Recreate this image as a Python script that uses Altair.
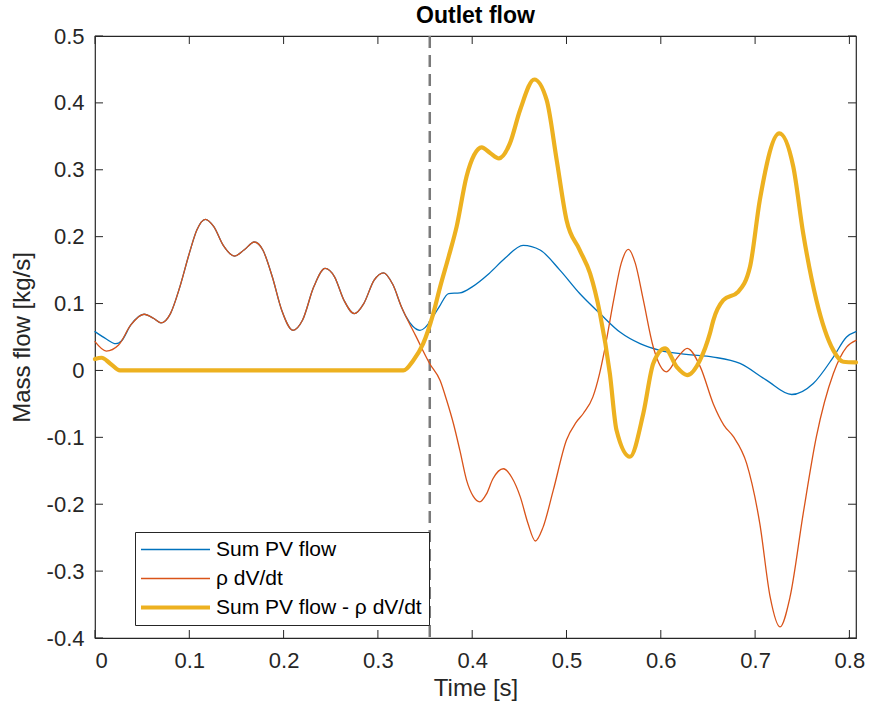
import altair as alt
import pandas as pd

# ---- data ----
series_names = ["Sum PV flow", "ρ dV/dt", "Sum PV flow - ρ dV/dt"]
series_colors = ["#0072BD", "#D95319", "#EDB120"]
series_widths = [1.3, 1.3, 4.2]

rho_t = [0.000, 0.012, 0.025, 0.038, 0.052, 0.062, 0.070, 0.080, 0.090, 0.100,
         0.108, 0.117, 0.126, 0.136, 0.148, 0.158, 0.169, 0.178, 0.188, 0.198,
         0.210, 0.220, 0.232, 0.244, 0.254, 0.264, 0.275, 0.285, 0.296, 0.306,
         0.316, 0.325, 0.330, 0.340, 0.355, 0.366, 0.373, 0.380, 0.387, 0.394,
         0.401, 0.408, 0.415, 0.422, 0.433, 0.442, 0.451, 0.459, 0.467, 0.475,
         0.486, 0.500, 0.510, 0.518, 0.528, 0.535, 0.541, 0.550, 0.558, 0.5656,
         0.573, 0.5815, 0.592, 0.606, 0.618, 0.628, 0.642, 0.6557, 0.667, 0.677,
         0.691, 0.705, 0.716, 0.7264, 0.737, 0.751, 0.765, 0.783, 0.797, 0.807]
rho_v = [0.043, 0.029, 0.038, 0.068, 0.084, 0.078, 0.071, 0.085, 0.125, 0.175,
         0.210, 0.226, 0.215, 0.187, 0.171, 0.180, 0.192, 0.180, 0.140, 0.090,
         0.060, 0.075, 0.125, 0.1525, 0.140, 0.105, 0.085, 0.100, 0.135, 0.146,
         0.128, 0.095, 0.080, 0.052, 0.010, -0.015, -0.045, -0.079, -0.120, -0.164,
         -0.188, -0.1965, -0.185, -0.162, -0.147, -0.160, -0.189, -0.228, -0.255, -0.235,
         -0.179, -0.104, -0.078, -0.064, -0.0395, -0.005, 0.035, 0.105, 0.160, 0.181,
         0.160, 0.105, 0.035, -0.002, 0.020, 0.033, 0.005, -0.050, -0.082, -0.099,
         -0.139, -0.229, -0.339, -0.3835, -0.339, -0.214, -0.099, -0.0045, 0.035, 0.045]

pv_t = [0.000, 0.012, 0.022, 0.028, 0.038, 0.052, 0.062, 0.070, 0.080, 0.090, 0.100,
        0.108, 0.117, 0.126, 0.136, 0.148, 0.158, 0.169, 0.178, 0.188, 0.198,
        0.210, 0.220, 0.232, 0.244, 0.254, 0.264, 0.275, 0.285, 0.296, 0.306,
        0.316, 0.325, 0.330, 0.337, 0.3446, 0.350, 0.355, 0.365, 0.375, 0.387,
        0.400, 0.418, 0.435, 0.454, 0.472, 0.493, 0.514, 0.5355, 0.557, 0.578,
        0.599, 0.627, 0.6557, 0.684, 0.712, 0.7388, 0.7617, 0.783, 0.797, 0.807]
pv_v = [0.058, 0.047, 0.040, 0.044, 0.068, 0.084, 0.078, 0.071, 0.085, 0.125, 0.175,
        0.210, 0.226, 0.215, 0.187, 0.171, 0.180, 0.192, 0.180, 0.140, 0.090,
        0.060, 0.075, 0.125, 0.1525, 0.140, 0.105, 0.085, 0.100, 0.135, 0.146,
        0.128, 0.095, 0.080, 0.066, 0.060, 0.064, 0.0727, 0.095, 0.115, 0.116,
        0.125, 0.145, 0.168, 0.187, 0.180, 0.150, 0.115, 0.085, 0.057, 0.040,
        0.030, 0.024, 0.020, 0.0105, -0.0145, -0.036, -0.0195, 0.020, 0.050, 0.058]

net_t = [0.000, 0.007, 0.016, 0.0265, 0.327, 0.3375, 0.348, 0.3587, 0.366, 0.375,
         0.3835, 0.394, 0.402, 0.410, 0.419, 0.4284, 0.440, 0.4507, 0.4659, 0.479,
         0.4896, 0.500, 0.514, 0.525, 0.5355, 0.546, 0.553, 0.5673, 0.5815, 0.592,
         0.6045, 0.617, 0.628, 0.6416, 0.652, 0.6557, 0.6663, 0.682, 0.6946, 0.705,
         0.7257, 0.7405, 0.751, 0.765, 0.783, 0.7935, 0.807]
net_v = [0.017, 0.019, 0.0105, 0.000, 0.000, 0.015, 0.040, 0.085, 0.125, 0.170,
         0.215, 0.290, 0.322, 0.3335, 0.325, 0.317, 0.3395, 0.389, 0.435, 0.404,
         0.3145, 0.225, 0.180, 0.145, 0.085, -0.005, -0.089, -0.129, -0.064, 0.0105,
         0.033, 0.005, -0.007, 0.0154, 0.055, 0.075, 0.105, 0.1176, 0.155, 0.2547,
         0.3545, 0.3045, 0.205, 0.105, 0.030, 0.013, 0.012]

marker_t = [0.355]
x_ticks = [0.0, 0.1, 0.2, 0.3, 0.4, 0.5, 0.6, 0.7, 0.8]
y_ticks = [-0.4, -0.3, -0.2, -0.1, 0.0, 0.1, 0.2, 0.3, 0.4, 0.5]
x_domain = [0, 0.807]
y_domain = [-0.4, 0.5]

W, H = 761, 602
FONT = "Liberation Sans"
AX = "#262626"

frames = []
for name, ts, vs in [(series_names[0], pv_t, pv_v),
                     (series_names[1], rho_t, rho_v),
                     (series_names[2], net_t, net_v)]:
    frames.append(pd.DataFrame({"t": ts, "v": vs, "series": name}))
df = pd.concat(frames, ignore_index=True)

xs = alt.Scale(domain=x_domain, nice=False, zero=False)
ys = alt.Scale(domain=y_domain, nice=False, zero=False)
lbl = "'' + round(datum.value*10)/10"

x_enc = alt.X("t:Q", scale=xs, title="Time [s]",
              axis=alt.Axis(values=x_ticks, labelExpr=lbl, tickSize=0, grid=False,
                            domain=False, labelPadding=12, titlePadding=5))
y_enc = alt.Y("v:Q", scale=ys, title="Mass flow [kg/s]",
              axis=alt.Axis(values=y_ticks, labelExpr=lbl, tickSize=0, grid=False,
                            domain=False, labelPadding=11, titlePadding=12))

sw_signal = ("datum.value == '%s' ? %s : (datum.value == '%s' ? %s : %s)"
             % (series_names[2], series_widths[2], series_names[1],
                series_widths[1], series_widths[0]))
color_enc = alt.Color(
    "series:N", scale=alt.Scale(domain=series_names, range=series_colors),
    legend=alt.Legend(title=None, symbolStrokeWidth={"expr": sw_signal}))

base = alt.Chart(df)
layers = []
for name, w in zip(series_names, series_widths):
    layers.append(
        base.transform_filter(alt.datum.series == name)
        .mark_line(interpolate="monotone", strokeCap="round", strokeJoin="round",
                   strokeWidth=w)
        .encode(x=x_enc, y=y_enc, color=color_enc)
    )

marker = alt.Chart(pd.DataFrame({"t": marker_t})).mark_rule(
    color="#7a7a7a", strokeWidth=2.5, strokeDash=[12, 7]
).encode(x=alt.X("t:Q", scale=xs))

xt = pd.DataFrame({"t": x_ticks})
yt = pd.DataFrame({"v": y_ticks})
tick_style = dict(color=AX, strokeWidth=1)
tb = alt.Chart(xt).mark_rule(**tick_style).encode(
    x=alt.X("t:Q", scale=xs), y=alt.value(H), y2=alt.value(H - 8))
tt = alt.Chart(xt).mark_rule(**tick_style).encode(
    x=alt.X("t:Q", scale=xs), y=alt.value(0), y2=alt.value(8))
tl = alt.Chart(yt).mark_rule(**tick_style).encode(
    y=alt.Y("v:Q", scale=ys), x=alt.value(0), x2=alt.value(8))
tr = alt.Chart(yt).mark_rule(**tick_style).encode(
    y=alt.Y("v:Q", scale=ys), x=alt.value(W), x2=alt.value(W - 8))

chart = alt.layer(marker, *layers, tb, tt, tl, tr).properties(
    width=W, height=H,
    title=alt.TitleParams("Outlet flow", fontSize=23, fontWeight="bold", font=FONT,
                          color="#000000", offset=-3),
    autosize=alt.AutoSizeParams(type="none"),
    padding={"left": 95, "top": 36, "right": 13, "bottom": 82},
).configure_view(
    stroke=AX, strokeWidth=1.2
).configure_axis(
    labelFont=FONT, titleFont=FONT, labelFontSize=22, titleFontSize=24,
    labelColor=AX, titleColor=AX, titleFontWeight="normal"
).configure_legend(
    orient="none", legendX=40, legendY=496,
    strokeColor=AX, fillColor="#ffffff", padding=7,
    symbolType="M-1,0H5", symbolSize=529, labelOffset=53,
    labelFont=FONT, labelFontSize=21, labelColor="#000000", labelLimit=400,
    rowPadding=7, symbolFillColor="transparent", cornerRadius=0
)

chart.save("out.html", embed_options={"renderer": "svg", "actions": False})
